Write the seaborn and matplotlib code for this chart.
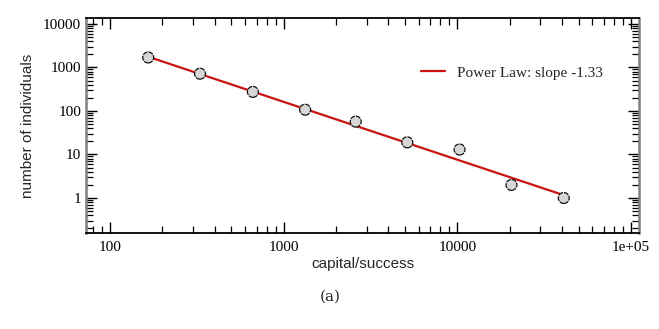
import numpy as np
import pandas as pd
import matplotlib
matplotlib.use("Agg")
import matplotlib.pyplot as plt
import seaborn as sns
from matplotlib.ticker import LogLocator, FixedLocator, NullFormatter

# Binned capital/success values and counts of individuals per bin
capital = [166, 330, 665, 1330, 2600, 5150, 10300, 20500, 41000]
individuals = [1700, 720, 275, 107, 57, 19, 13, 2, 1]

# Fitted power law (log10 space)
slope = -1.33
log_intercept = 6.2

x_ticks = [100, 1000, 10000, 100000]
x_tick_labels = ["100", "1000", "10000", "1e+05"]
y_ticks = [1, 10, 100, 1000, 10000]
y_tick_labels = ["1", "10", "100", "1000", "10000"]

sns.set_theme(style="white")
plt.rcParams["font.family"] = ["Liberation Serif", "DejaVu Serif"]

df = pd.DataFrame({"capital": capital, "individuals": individuals})
fit_x = np.array([capital[0], capital[-1]], dtype=float)
fit_df = pd.DataFrame({"capital": fit_x,
                       "fit": 10 ** (log_intercept + slope * np.log10(fit_x))})

fig = plt.figure(figsize=(6.59, 3.29), dpi=100)
ax = fig.add_axes([86 / 659, 1 - 233 / 329, (639 - 86) / 659, (233 - 18) / 329])

sns.lineplot(data=fit_df, x="capital", y="fit", ax=ax, color="#cc1111",
             linewidth=1.6, label=f"Power Law: slope {slope}", zorder=2)
sns.scatterplot(data=df, x="capital", y="individuals", ax=ax, s=62,
                color="#d6d6d6", edgecolor="#111111", linewidth=0.9,
                zorder=3, legend=False)
for c in ax.collections:
    c.set_linestyle((0, (4, 0.8)))

ax.set_xscale("log")
ax.set_yscale("log")
ax.set_xlim(10 ** 1.862, 10 ** 5.046)
ax.set_ylim(10 ** -0.805, 10 ** 4.138)

ax.xaxis.set_major_locator(FixedLocator(x_ticks))
ax.set_xticklabels(x_tick_labels)
ax.yaxis.set_major_locator(FixedLocator(y_ticks))
ax.set_yticklabels(y_tick_labels)
ax.xaxis.set_minor_locator(LogLocator(base=10, subs=np.arange(2, 10)))
ax.yaxis.set_minor_locator(LogLocator(base=10, subs=np.arange(2, 10)))
ax.xaxis.set_minor_formatter(NullFormatter())
ax.yaxis.set_minor_formatter(NullFormatter())

ax.tick_params(which="both", direction="in", top=True, right=True,
               bottom=True, left=True, colors="black", labelsize=11)
ax.tick_params(which="major", length=8, width=1.0)
ax.tick_params(which="minor", length=5, width=0.9)
ax.tick_params(axis="x", pad=6)

for side in ["top", "bottom"]:
    ax.spines[side].set_color("black")
    ax.spines[side].set_linewidth(1.3)
for side in ["left", "right"]:
    ax.spines[side].set_color("#808080")
    ax.spines[side].set_linewidth(1.8)

ax.set_xlabel("capital/success", family=["Liberation Sans", "DejaVu Sans"],
              fontsize=11, labelpad=2)
ax.set_ylabel("number of individuals", family=["Liberation Sans", "DejaVu Sans"],
              fontsize=11, labelpad=6)

leg = ax.legend(loc="upper right", bbox_to_anchor=(0.96, 0.84), frameon=False,
                fontsize=11, handlelength=1.6, handletextpad=0.8)

fig.text(330 / 659, 1 - 297 / 329, "(a)", ha="center", va="center",
         fontsize=11, family=["DejaVu Serif"])

fig.savefig("out.png", dpi=100)
